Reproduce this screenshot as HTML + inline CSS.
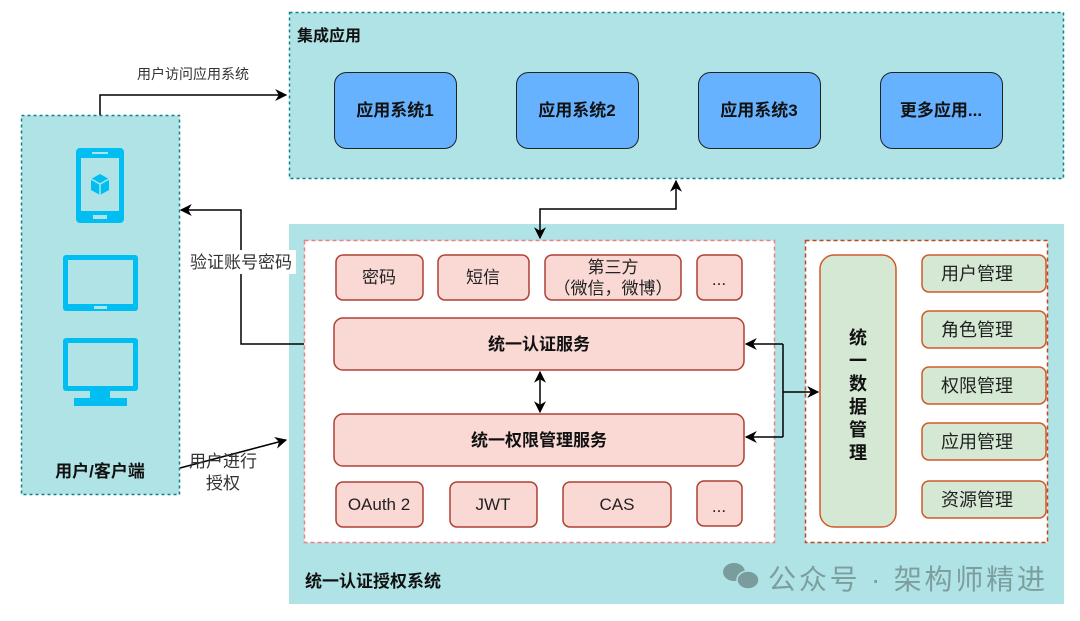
<!DOCTYPE html>
<html><head><meta charset="utf-8"><style>
html,body{margin:0;padding:0;background:#fff;}
svg{display:block}
text{font-family:"Liberation Sans","Noto Sans CJK SC",sans-serif;}
</style></head><body>
<svg width="1080" height="621" viewBox="0 0 1080 621" xmlns="http://www.w3.org/2000/svg">
<defs>
<marker id="a" viewBox="0 0 10 10" refX="9" refY="5" markerWidth="12" markerHeight="12" orient="auto-start-reverse" markerUnits="userSpaceOnUse"><path d="M0,0 L10,5 L0,10 L3,5 z" fill="#000"/></marker>
</defs>
<!-- top box -->
<rect x="289.5" y="12.5" width="774" height="166" fill="#b0e3e6" stroke="#0e8088" stroke-width="1.5" stroke-dasharray="3 3"/>
<text x="297" y="41" font-size="16" font-weight="bold" fill="#111">集成应用</text>
<g font-size="17" font-weight="bold" fill="#111" text-anchor="middle">
<rect x="334.5" y="72.5" width="122" height="76" rx="12" fill="#66b2ff" stroke="#222"/><text x="395" y="116">应用系统1</text>
<rect x="516.5" y="72.5" width="122" height="76" rx="12" fill="#66b2ff" stroke="#222"/><text x="577" y="116">应用系统2</text>
<rect x="698.5" y="72.5" width="122" height="76" rx="12" fill="#66b2ff" stroke="#222"/><text x="759" y="116">应用系统3</text>
<rect x="880.5" y="72.5" width="122" height="76" rx="12" fill="#66b2ff" stroke="#222"/><text x="941" y="116">更多应用...</text>
</g>
<!-- left box -->
<rect x="21.5" y="115.5" width="158" height="379" fill="#b0e3e6" stroke="#0e8088" stroke-width="1.5" stroke-dasharray="3 3"/>
<g fill="#00bef2">
<rect x="76" y="148" width="48" height="75" rx="4"/>
<rect x="81" y="158" width="38" height="53" fill="#b0e3e6"/>
<rect x="92" y="152" width="16" height="2" fill="#b0e3e6"/>
<rect x="93" y="215" width="14" height="4" fill="#b0e3e6"/>
<path d="M100,174 L109,179 L109,190 L100,195 L91,190 L91,179 Z"/>
<path d="M91,179 L100,184 L109,179 M100,184 L100,195" stroke="#b0e3e6" stroke-width="1.5" fill="none"/>
<rect x="63" y="255" width="75" height="56" rx="3"/>
<rect x="68" y="260" width="65" height="44" fill="#b0e3e6"/>
<rect x="94" y="306" width="13" height="3" fill="#b0e3e6"/>
<rect x="63" y="338" width="75" height="53" rx="3"/>
<rect x="68" y="343" width="65" height="43" fill="#b0e3e6"/>
<rect x="90" y="390" width="20" height="10"/>
<rect x="74" y="398" width="53" height="8"/>
</g>
<text x="100" y="477" font-size="17" font-weight="bold" fill="#111" text-anchor="middle">用户/客户端</text>
<!-- bottom big box -->
<rect x="289" y="224" width="775" height="380" fill="#b0e3e6"/>
<rect x="304.5" y="240.5" width="470" height="302" fill="#fff" stroke="#f08080" stroke-width="1.5" stroke-dasharray="4 3"/>
<rect x="805.5" y="240.5" width="242" height="302" fill="#fff" stroke="#c0461c" stroke-width="1.5" stroke-dasharray="4 3"/>
<g fill="#fad9d5" stroke="#ae4132" stroke-width="1.5">
<rect x="336" y="255" width="87" height="45" rx="7"/>
<rect x="438" y="255" width="91" height="45" rx="7"/>
<rect x="545" y="255" width="136" height="45" rx="7"/>
<rect x="697" y="255" width="45" height="45" rx="7"/>
<rect x="334" y="318" width="410" height="52" rx="9"/>
<rect x="334" y="414" width="410" height="52" rx="9"/>
<rect x="336" y="482" width="87" height="45" rx="7"/>
<rect x="450" y="482" width="87" height="45" rx="7"/>
<rect x="563" y="482" width="108" height="45" rx="7"/>
<rect x="697" y="481" width="45" height="45" rx="7"/>
</g>
<g font-size="17" fill="#222" text-anchor="middle">
<text x="379" y="283">密码</text>
<text x="483" y="283">短信</text>
<text x="613" y="273">第三方</text>
<text x="613" y="294">（微信，微博）</text>
<text x="719" y="285">...</text>
<text x="379" y="510">OAuth 2</text>
<text x="493" y="510">JWT</text>
<text x="617" y="510">CAS</text>
<text x="719" y="512">...</text>
</g>
<g font-size="17" font-weight="bold" fill="#111" text-anchor="middle">
<text x="539" y="350">统一认证服务</text>
<text x="539" y="446">统一权限管理服务</text>
</g>
<rect x="820" y="255" width="76" height="272" rx="14" fill="#d5e8d4" stroke="#d0592a" stroke-width="1.5"/>
<g font-size="18" font-weight="bold" fill="#111" text-anchor="middle">
<text x="858" y="344">统</text><text x="858" y="367">一</text><text x="858" y="390">数</text><text x="858" y="413">据</text><text x="858" y="436">管</text><text x="858" y="459">理</text>
</g>
<g fill="#d5e8d4" stroke="#d0592a" stroke-width="1.5">
<rect x="922" y="255" width="124" height="37" rx="7"/>
<rect x="922" y="311" width="124" height="37" rx="7"/>
<rect x="922" y="367" width="124" height="37" rx="7"/>
<rect x="922" y="423" width="124" height="37" rx="7"/>
<rect x="922" y="481" width="124" height="37" rx="7"/>
</g>
<g font-size="18" fill="#222" text-anchor="middle">
<text x="977" y="280">用户管理</text>
<text x="977" y="336">角色管理</text>
<text x="977" y="392">权限管理</text>
<text x="977" y="448">应用管理</text>
<text x="977" y="506">资源管理</text>
</g>
<text x="305" y="587" font-size="17" font-weight="bold" fill="#111">统一认证授权系统</text>
<!-- watermark -->
<g fill="#7b9c9c">
<ellipse cx="734" cy="572" rx="11" ry="9"/>
<ellipse cx="748" cy="580" rx="11" ry="9" stroke="#b0e3e6" stroke-width="1.5"/>
</g>
<text x="768" y="589" font-size="28" fill="#7d9e9e" textLength="277" lengthAdjust="spacing">公众号 · 架构师精进</text>
<!-- connectors -->
<g stroke="#000" stroke-width="1.5" fill="none">
<path d="M100,115 V95 H286" marker-end="url(#a)"/>
<path d="M304,344 H241 V210 H181" marker-end="url(#a)"/>
<path d="M180,468 L286,440" marker-end="url(#a)"/>
<path d="M540,238 V209 H676 V181" marker-start="url(#a)" marker-end="url(#a)"/>
<path d="M540,372 V412" marker-start="url(#a)" marker-end="url(#a)"/>
<path d="M783,344 V437"/>
<path d="M783,344 H746" marker-end="url(#a)"/>
<path d="M783,437 H746" marker-end="url(#a)"/>
<path d="M783,392 H818" marker-end="url(#a)"/>
</g>
<text x="193" y="79" font-size="14" fill="#333" text-anchor="middle">用户访问应用系统</text>
<rect x="186" y="250" width="110" height="24" fill="#fff"/>
<text x="241" y="268" font-size="17" fill="#333" text-anchor="middle">验证账号密码</text>
<text x="223" y="467" font-size="17" fill="#333" text-anchor="middle">用户进行</text>
<text x="223" y="489" font-size="17" fill="#333" text-anchor="middle">授权</text>
</svg>
</body></html>
